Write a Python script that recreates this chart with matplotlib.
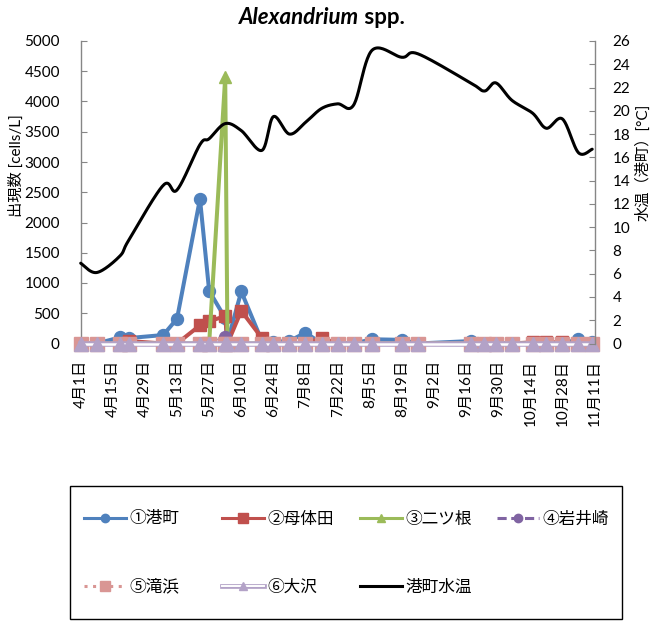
import numpy as np
import pandas as pd
import matplotlib
matplotlib.use('Agg')
import matplotlib.pyplot as plt
import matplotlib.patheffects as pe
from matplotlib.lines import Line2D
from matplotlib.patches import Rectangle
from matplotlib.offsetbox import TextArea, HPacker, AnnotationBbox
from matplotlib.legend_handler import HandlerTuple
import matplotlib.dates as mdates

plt.rcParams['font.family'] = ['Lato', 'Noto Sans CJK JP', 'DejaVu Sans']

# ---------------- data ----------------
sample_dates = ['2013-04-01', '2013-04-08', '2013-04-18', '2013-04-22', '2013-05-07',
                '2013-05-13', '2013-05-23', '2013-05-27', '2013-06-03', '2013-06-04',
                '2013-06-10', '2013-06-19', '2013-06-24', '2013-07-01', '2013-07-08',
                '2013-07-15', '2013-07-22', '2013-07-29', '2013-08-06', '2013-08-19',
                '2013-08-26', '2013-09-18', '2013-09-24', '2013-09-29', '2013-10-06',
                '2013-10-15', '2013-10-21', '2013-10-28', '2013-11-04', '2013-11-10']

minatomachi = [0, 0, 100, 90, 140, 410, 2390, 870, 420, 30,
               860, 40, 30, 40, 180, 0, 0, 0, 70, 60,
               0, 40, 0, 0, 0, 0, 0, 0, 70, 30]
botaida = [0, 0, 0, 40, 0, 0, 300, 370, 450, 0,
           540, 90, 0, 0, 0, 90, 0, 0, 0, 0,
           0, 0, 0, 0, 0, 20, 20, 20, 0, 0]
futatsune = [0, 0, 0, 0, 0, 0, 0, 0, 4400, 0,
             0, 0, 0, 0, 0, 0, 0, 0, 0, 0,
             0, 0, 0, 0, 0, 0, 0, 0, 0, 0]
iwaisaki = [0, 0, 0, 0, 0, 0, 0, 0, 100, 0,
            0, 0, 0, 0, 0, 0, 0, 0, 0, 0,
            0, 0, 0, 0, 0, 0, 0, 0, 0, 0]
takihama = [0] * 30
osawa = [0] * 30

water_temp = [6.9, 6.1, 7.5, 8.9, 13.6, 13.2, 17.1, 17.6, 18.9, None,
              18.3, 16.6, 19.5, 18.0, 19.0, 20.2, 20.6, 20.5, 25.2, 24.6,
              24.9, 22.4, 21.7, 22.4, 20.9, 19.8, 18.5, 19.3, 16.4, 16.7]

tick_labels = ['4月1日', '4月15日', '4月29日', '5月13日', '5月27日', '6月10日',
               '6月24日', '7月8日', '7月22日', '8月5日', '8月19日', '9月2日',
               '9月16日', '9月30日', '10月14日', '10月28日', '11月11日']

series_names = ['①港町', '②母体田', '③二ツ根', '④岩井崎', '⑤滝浜', '⑥大沢']
temp_name = '港町水温'

# ---------------- helpers ----------------
def smooth(x, y, n=24):
    P = np.column_stack([np.asarray(x, float), np.asarray(y, float)])
    out = []
    for i in range(len(P) - 1):
        p0 = P[i - 1] if i > 0 else P[i]
        p1, p2 = P[i], P[i + 1]
        p3 = P[i + 2] if i + 2 < len(P) else P[i + 1]
        c1 = p1 + (p2 - p0) / 6.0
        c2 = p2 - (p3 - p1) / 6.0
        t = np.linspace(0, 1, n, endpoint=(i == len(P) - 2))[:, None]
        seg = ((1 - t) ** 3) * p1 + 3 * ((1 - t) ** 2) * t * c1 + 3 * (1 - t) * (t ** 2) * c2 + (t ** 3) * p2
        out.append(seg)
    return np.vstack(out)

# ---------------- figure ----------------
W, H = 664, 621
fig = plt.figure(figsize=(W / 100, H / 100), dpi=100)
fig.patch.set_facecolor('white')

x0, x1, ytop, ybot = 80.7, 594.5, 41.0, 343.5
ax = fig.add_axes([x0 / W, 1 - ybot / H, (x1 - x0) / W, (ybot - ytop) / H])
ax2 = ax.twinx()

dates = pd.to_datetime(sample_dates)
xd = mdates.date2num(dates)

BLUE = '#4F81BD'
RED = '#C0504D'
GREEN = '#9BBB59'
PURPLE = '#8064A2'
PINK = '#D99694'
LAV = '#B3A2C7'

ax.plot(xd, minatomachi, color=BLUE, lw=2.9, marker='o', ms=8.6,
        mfc=BLUE, mec=BLUE, zorder=2)
ax.plot(xd, botaida, color=RED, lw=2.9, marker='s', ms=8.6,
        mfc=RED, mec=RED, zorder=3)
ax.plot(xd, futatsune, color=GREEN, lw=2.9, marker='^', ms=8.6,
        mfc=GREEN, mec=GREEN, zorder=4)
ax.plot(xd, iwaisaki, color=PURPLE, lw=2.2, ls=(0, (3, 1.5)), marker='o', ms=8.6,
        mfc=PURPLE, mec=PURPLE, zorder=5)
ax.plot(xd, takihama, color=PINK, lw=2.2, ls=(0, (1, 1.5)), marker='s', ms=10,
        mfc=PINK, mec=PINK, zorder=6)
lav_fx = [pe.Stroke(linewidth=4.0, foreground=LAV), pe.Normal()]
ax.plot(xd, osawa, color='white', lw=1.8, zorder=7, path_effects=lav_fx)
ax.plot(xd, osawa, ls='none', marker='^', ms=9.5, mfc=LAV, mec=LAV, zorder=7.5)

# temperature (smoothed)
wt = np.array([np.nan if v is None else v for v in water_temp], float)
ok = ~np.isnan(wt)
curve = smooth(xd[ok], wt[ok])
ax2.plot(curve[:, 0], curve[:, 1], color='black', lw=2.2, solid_capstyle='round')

# axes ranges
tick_dates = pd.date_range('2013-04-01', periods=len(tick_labels), freq='14D')
tx = mdates.date2num(tick_dates)
ax.set_xlim(tx[0], tx[-1])
ax.set_ylim(0, 5000)
ax2.set_ylim(0, 26)
ax.set_xticks(tx)
ax.set_xticklabels(tick_labels, rotation=90, fontsize=11)
ax.set_yticks(np.arange(0, 5001, 500))
ax2.set_yticks(np.arange(0, 27, 2))

GRAY = '#868686'
ax.spines['top'].set_visible(False)
ax2.spines['top'].set_visible(False)
ax.spines['right'].set_visible(False)
ax2.spines['left'].set_visible(False)
ax2.spines['bottom'].set_visible(False)
ax.spines['left'].set_color(GRAY)
ax.spines['bottom'].set_color(GRAY)
ax2.spines['right'].set_color(GRAY)
for sp in [ax.spines['left'], ax.spines['bottom'], ax2.spines['right']]:
    sp.set_linewidth(1.0)

ax.tick_params(axis='y', direction='in', length=4, color=GRAY, labelsize=11, pad=15)
ax2.tick_params(axis='y', direction='in', length=4, color=GRAY, labelsize=11, pad=13)
ax.tick_params(axis='x', length=0, labelsize=11, pad=12)

for ln in ax.get_lines() + ax2.get_lines():
    ln.set_clip_on(False)

ax.set_ylabel('出現数 [cells/L]', fontsize=11, va='center', ha='center')
ax.yaxis.set_label_coords((16 - x0) / (x1 - x0), (ybot - 166) / (ybot - ytop))
ax2.set_ylabel('水温（港町）[°C]', fontsize=11, rotation=90, va='center', ha='center')
ax2.yaxis.set_label_coords((643 - x0) / (x1 - x0), (ybot - 162) / (ybot - ytop))

# title
t1 = TextArea('Alexandrium', textprops=dict(fontsize=16, fontweight='bold', fontstyle='italic', family='Lato'))
t2 = TextArea(' spp.', textprops=dict(fontsize=16, fontweight='bold', family='Lato'))
pack = HPacker(children=[t1, t2], pad=0, sep=0, align='baseline')
ab = AnnotationBbox(pack, (322 / W, 1 - 17 / H), xycoords='figure fraction',
                    frameon=False, box_alignment=(0.5, 0.5))
fig.add_artist(ab)

# legend
lav_line = Line2D([], [], color='white', lw=1.4,
                  path_effects=[pe.Stroke(linewidth=3.4, foreground=LAV), pe.Normal()])
lav_mark = Line2D([], [], ls='none', marker='^', ms=6, mfc=LAV, mec=LAV)
hs = [
    Line2D([], [], color=BLUE, lw=2.2, marker='o', ms=6, mfc=BLUE, mec=BLUE),
    Line2D([], [], color=RED, lw=2.2, marker='s', ms=6.5, mfc=RED, mec=RED),
    Line2D([], [], color=GREEN, lw=2.2, marker='^', ms=6, mfc=GREEN, mec=GREEN),
    Line2D([], [], color=PURPLE, lw=2.2, ls=(0, (3, 1.5)), marker='o', ms=6, mfc=PURPLE, mec=PURPLE),
    Line2D([], [], color=PINK, lw=2.2, ls=(0, (1, 1.8)), marker='s', ms=6.5, mfc=PINK, mec=PINK),
    (lav_line, lav_mark),
    Line2D([], [], color='black', lw=2.2),
]
labels = series_names + [temp_name]
cols = [84, 222, 360, 497]
rows = [519, 587]
for i, (h, lab) in enumerate(zip(hs, labels)):
    c = i % 4
    r = i // 4
    fig.legend([h], [lab], loc='center left',
               bbox_to_anchor=(cols[c] / W, 1 - rows[r] / H),
               frameon=False, borderpad=0, borderaxespad=0,
               prop=dict(family='Noto Sans CJK JP', size=12),
               handlelength=2.5, handletextpad=0.2, numpoints=1,
               handler_map={tuple: HandlerTuple(ndivide=1)})

fig.add_artist(Rectangle((70 / W, 1 - 619 / H), (622 - 70) / W, (619 - 485.7) / H,
                         transform=fig.transFigure, fill=False, edgecolor='black', lw=1.0))

fig.savefig('out.png', dpi=100)
